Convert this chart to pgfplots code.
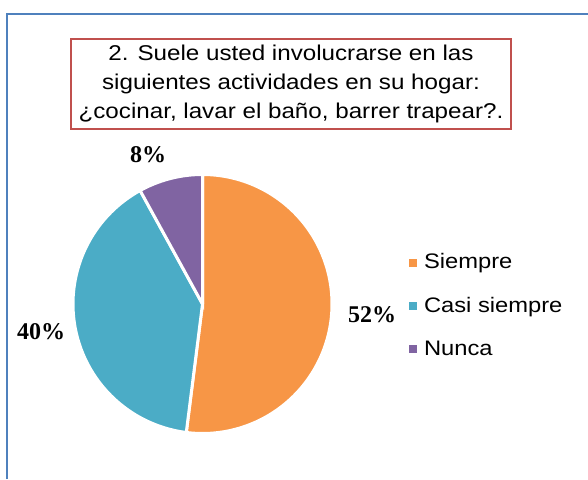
\documentclass[border=0pt]{standalone}
\usepackage{fontspec}
\setmainfont{Liberation Sans}
\newfontfamily\chartsans{Liberation Sans}[FakeStretch=1.13]
\newfontfamily\chartserif{Liberation Serif}
\usepackage{pgfplots}
\pgfplotsset{compat=1.18}

\definecolor{siempre}{HTML}{F79646}
\definecolor{casi}{HTML}{4BACC6}
\definecolor{nunca}{HTML}{8064A2}
\definecolor{titlered}{HTML}{C0504D}
\definecolor{frameblue}{HTML}{4F81BD}

% shares of each answer (percent)
\def\vA{52}\def\vB{40}\def\vC{8}

\begin{document}
\begin{tikzpicture}
\pgfmathsetmacro\aA{90}
\pgfmathsetmacro\aB{\aA-3.6*\vA}
\pgfmathsetmacro\aC{\aB-3.6*\vB}
\pgfmathsetmacro\aD{\aC-3.6*\vC}
\begin{axis}[
    name=ax,
    width=588pt, height=479pt, scale only axis,
    xmin=0, xmax=588, ymin=0, ymax=479,
    hide axis, clip=false,
    legend style={at={(axis cs:409,226)}, anchor=north west,
        draw=none, fill=none, inner sep=0pt, outer sep=0pt,
        row sep=22pt, column sep=7pt,
        font=\chartsans\fontsize{21}{25}\selectfont,
        nodes={inner sep=0pt, text height=16pt, text depth=5pt}},
    legend cell align=left,
    legend image code/.code={\fill[#1,draw=none] (0pt,-4pt) rectangle (8pt,4pt);},
]
\addplot[fill=siempre, draw=white, line width=3pt, domain=\aA:\aB, samples=120]
    ({202.5+129.5*cos(x)},{175+129.5*sin(x)}) -- (axis cs:202.5,175) -- cycle;
\addlegendentry{Siempre}
\addplot[fill=casi, draw=white, line width=3pt, domain=\aB:\aC, samples=100]
    ({202.5+129.5*cos(x)},{175+129.5*sin(x)}) -- (axis cs:202.5,175) -- cycle;
\addlegendentry{Casi siempre}
\addplot[fill=nunca, draw=white, line width=3pt, domain=\aC:\aD, samples=30]
    ({202.5+129.5*cos(x)},{175+129.5*sin(x)}) -- (axis cs:202.5,175) -- cycle;
\addlegendentry{Nunca}

\node[font=\chartserif\bfseries\fontsize{24}{28}\selectfont] at (axis cs:372,164) {52\%};
\node[font=\chartserif\bfseries\fontsize{24}{28}\selectfont] at (axis cs:41,147) {40\%};
\node[font=\chartserif\bfseries\fontsize{24}{28}\selectfont] at (axis cs:148,324) {8\%};

\node[draw=titlered, line width=2pt, minimum width=440pt, minimum height=90pt,
      inner sep=0pt, align=center,
      font=\chartsans\fontsize{21.4}{29}\selectfont] at (axis cs:291,395)
    {2. Suele usted involucrarse en las\\siguientes actividades en su hogar:\\¿cocinar, lavar el baño, barrer trapear?.};

\draw[frameblue, line width=2.5pt] (axis cs:7,0) -- (axis cs:7,465) -- (axis cs:588,465);
\end{axis}
\pgfresetboundingbox
\useasboundingbox (ax.south west) rectangle (ax.north east);
\end{tikzpicture}
\end{document}
